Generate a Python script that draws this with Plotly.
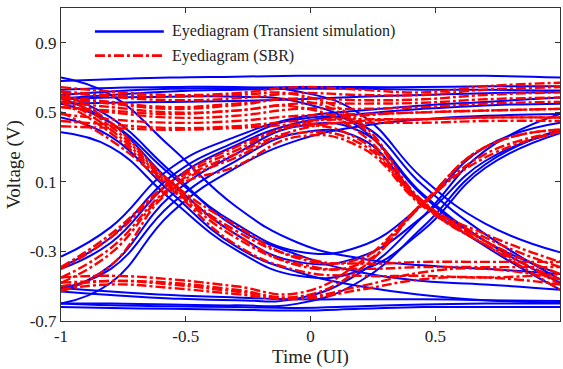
import plotly.graph_objects as go

# Time grid (UI) at which the eye traces were read
t_ui = [-1.0, -0.8, -0.56, -0.3, -0.05, 0.2, 0.45, 0.7, 1.0]

# Eye diagram traces from transient simulation (V)
transient_traces = [
    [0.68, 0.69, 0.70, 0.705, 0.71, 0.71, 0.71, 0.71, 0.70],
    [0.60, 0.62, 0.635, 0.64, 0.645, 0.645, 0.645, 0.65, 0.65],
    [0.58, 0.60, 0.62, 0.63, 0.635, 0.635, 0.63, 0.63, 0.625],
    [0.55, 0.555, 0.56, 0.565, 0.575, 0.59, 0.60, 0.61, 0.615],
    [0.63, 0.64, 0.645, 0.645, 0.62, 0.49, 0.12, -0.14, -0.305],
    [0.575, 0.585, 0.59, 0.59, 0.56, 0.41, 0.02, -0.24, -0.43],
    [-0.33, -0.16, 0.18, 0.36, 0.47, 0.51, 0.54, 0.56, 0.585],
    [-0.40, -0.25, 0.10, 0.31, 0.44, 0.49, 0.52, 0.54, 0.55],
    [-0.60, -0.48, -0.08, 0.18, 0.34, 0.42, 0.46, 0.48, 0.49],
    [-0.39, -0.22, 0.13, 0.33, 0.46, 0.43, 0.08, -0.20, -0.46],
    [-0.53, -0.38, 0.02, 0.26, 0.42, 0.39, 0.03, -0.24, -0.48],
    [-0.51, -0.40, -0.03, 0.22, 0.38, 0.35, -0.02, -0.27, -0.52],
    [0.70, 0.60, 0.30, -0.04, -0.25, -0.34, -0.38, -0.40, -0.43],
    [0.60, 0.47, 0.16, -0.16, -0.32, -0.42, -0.47, -0.49, -0.52],
    [0.47, 0.36, 0.04, -0.27, -0.42, -0.50, -0.55, -0.58, -0.595],
    [0.58, 0.44, 0.10, -0.20, -0.36, -0.33, -0.10, 0.22, 0.39],
    [0.55, 0.44, 0.14, -0.14, -0.30, -0.27, -0.03, 0.30, 0.44],
    [0.385, 0.30, 0.00, -0.29, -0.44, -0.41, -0.18, 0.18, 0.38],
    [-0.60, -0.61, -0.615, -0.62, -0.625, -0.615, -0.605, -0.60, -0.60],
    [-0.62, -0.625, -0.63, -0.635, -0.64, -0.63, -0.62, -0.62, -0.62],
    [-0.51, -0.53, -0.55, -0.565, -0.575, -0.575, -0.575, -0.58, -0.585],
    [-0.60, -0.60, -0.605, -0.61, -0.60, -0.47, -0.16, 0.20, 0.40],
    [-0.53, -0.55, -0.57, -0.58, -0.57, -0.42, -0.10, 0.28, 0.49],
]

# Eye diagram traces from single-bit-response method (V)
sbr_traces = [
    [0.645, 0.62, 0.60, 0.61, 0.645, 0.63, 0.615, 0.65, 0.67],
    [0.615, 0.59, 0.57, 0.58, 0.61, 0.60, 0.60, 0.63, 0.645],
    [0.59, 0.56, 0.53, 0.55, 0.58, 0.57, 0.575, 0.60, 0.615],
    [0.56, 0.53, 0.50, 0.51, 0.55, 0.55, 0.555, 0.575, 0.585],
    [0.53, 0.50, 0.47, 0.48, 0.52, 0.52, 0.53, 0.55, 0.56],
    [0.49, 0.46, 0.44, 0.45, 0.48, 0.49, 0.50, 0.51, 0.52],
    [0.45, 0.43, 0.41, 0.42, 0.45, 0.46, 0.46, 0.47, 0.47],
    [0.42, 0.41, 0.40, 0.41, 0.43, 0.44, 0.44, 0.45, 0.45],
    [0.62, 0.60, 0.59, 0.60, 0.60, 0.44, -0.01, -0.22, -0.39],
    [0.53, 0.51, 0.49, 0.51, 0.53, 0.38, -0.03, -0.26, -0.46],
    [0.58, 0.55, 0.52, 0.54, 0.57, 0.42, -0.02, -0.24, -0.43],
    [-0.39, -0.20, 0.10, 0.30, 0.43, 0.48, 0.50, 0.51, 0.52],
    [-0.45, -0.28, 0.07, 0.26, 0.40, 0.45, 0.46, 0.47, 0.47],
    [-0.40, -0.22, 0.09, 0.28, 0.42, 0.34, -0.02, -0.20, -0.36],
    [-0.48, -0.31, 0.06, 0.24, 0.38, 0.32, -0.03, -0.24, -0.49],
    [-0.53, -0.38, 0.05, 0.19, 0.36, 0.30, -0.04, -0.26, -0.52],
    [0.60, 0.42, 0.09, -0.18, -0.33, -0.34, -0.02, 0.30, 0.40],
    [0.56, 0.38, 0.07, -0.22, -0.37, -0.37, -0.03, 0.26, 0.385],
    [0.62, 0.44, 0.10, -0.15, -0.34, -0.37, -0.36, -0.36, -0.36],
    [0.58, 0.40, 0.08, -0.20, -0.38, -0.40, -0.39, -0.39, -0.39],
    [0.50, 0.34, 0.06, -0.26, -0.41, -0.44, -0.44, -0.45, -0.43],
    [-0.45, -0.44, -0.46, -0.50, -0.54, -0.36, -0.02, 0.30, 0.40],
    [-0.48, -0.47, -0.48, -0.52, -0.56, -0.40, -0.03, 0.24, 0.385],
    [-0.50, -0.47, -0.49, -0.53, -0.565, -0.50, -0.42, -0.40, -0.46],
    [-0.52, -0.49, -0.51, -0.545, -0.575, -0.52, -0.46, -0.45, -0.49],
]

legend_labels = ["Eyediagram (Transient simulation)", "Eyediagram (SBR)"]
x_ticks = [-1, -0.5, 0, 0.5, 1]
y_ticks = [-0.7, -0.3, 0.1, 0.5, 0.9]

BLUE = "#0000FF"
RED = "#FF0000"
RED_DASH = "10px,3px,3px,3px"
FONT = "Liberation Serif, Times New Roman, serif"

fig = go.Figure()
for ys in transient_traces:
    fig.add_trace(go.Scatter(x=t_ui, y=ys, mode="lines", showlegend=False,
                             line=dict(color=BLUE, width=2, shape="spline", smoothing=1.3),
                             hoverinfo="skip"))
for ys in sbr_traces:
    fig.add_trace(go.Scatter(x=t_ui, y=ys, mode="lines", showlegend=False,
                             line=dict(color=RED, width=2.4, dash=RED_DASH, shape="spline", smoothing=1.3),
                             hoverinfo="skip"))

# Custom legend (long line samples as in the reference)
leg_rows = [0.925, 0.848]
leg_styles = [dict(color=BLUE, width=2.4), dict(color=RED, width=2.6, dash=RED_DASH)]
for yy, st, lab in zip(leg_rows, leg_styles, legend_labels):
    fig.add_shape(type="line", xref="paper", yref="paper", x0=0.068, x1=0.206, y0=yy, y1=yy, line=st)
    fig.add_annotation(xref="paper", yref="paper", x=0.218, y=yy, text=lab, showarrow=False,
                       xanchor="left", yanchor="middle", font=dict(family=FONT, size=16, color="#222"))

axis_common = dict(showgrid=False, zeroline=False, showline=True, linecolor="#333", linewidth=1,
                   mirror="ticks", ticks="inside", ticklen=5, tickcolor="#333",
                   tickfont=dict(family=FONT, size=17, color="#222"))
fig.update_xaxes(range=[-1, 1], tickvals=x_ticks, ticktext=["-1", "-0.5", "0", "0.5", "1"],
                 title=dict(text="Time (UI)", font=dict(family=FONT, size=19, color="#222"), standoff=4),
                 **axis_common)
fig.update_yaxes(range=[-0.7, 1.1], tickvals=y_ticks, ticktext=["-0.7", "-0.3", "0.1", "0.5", "0.9"],
                 title=dict(text="Voltage (V)", font=dict(family=FONT, size=19, color="#222"), standoff=4),
                 **axis_common)
fig.update_layout(width=563, height=369, margin=dict(l=61, r=3, t=8, b=48),
                  plot_bgcolor="white", paper_bgcolor="white")
fig.write_html("out.html")
